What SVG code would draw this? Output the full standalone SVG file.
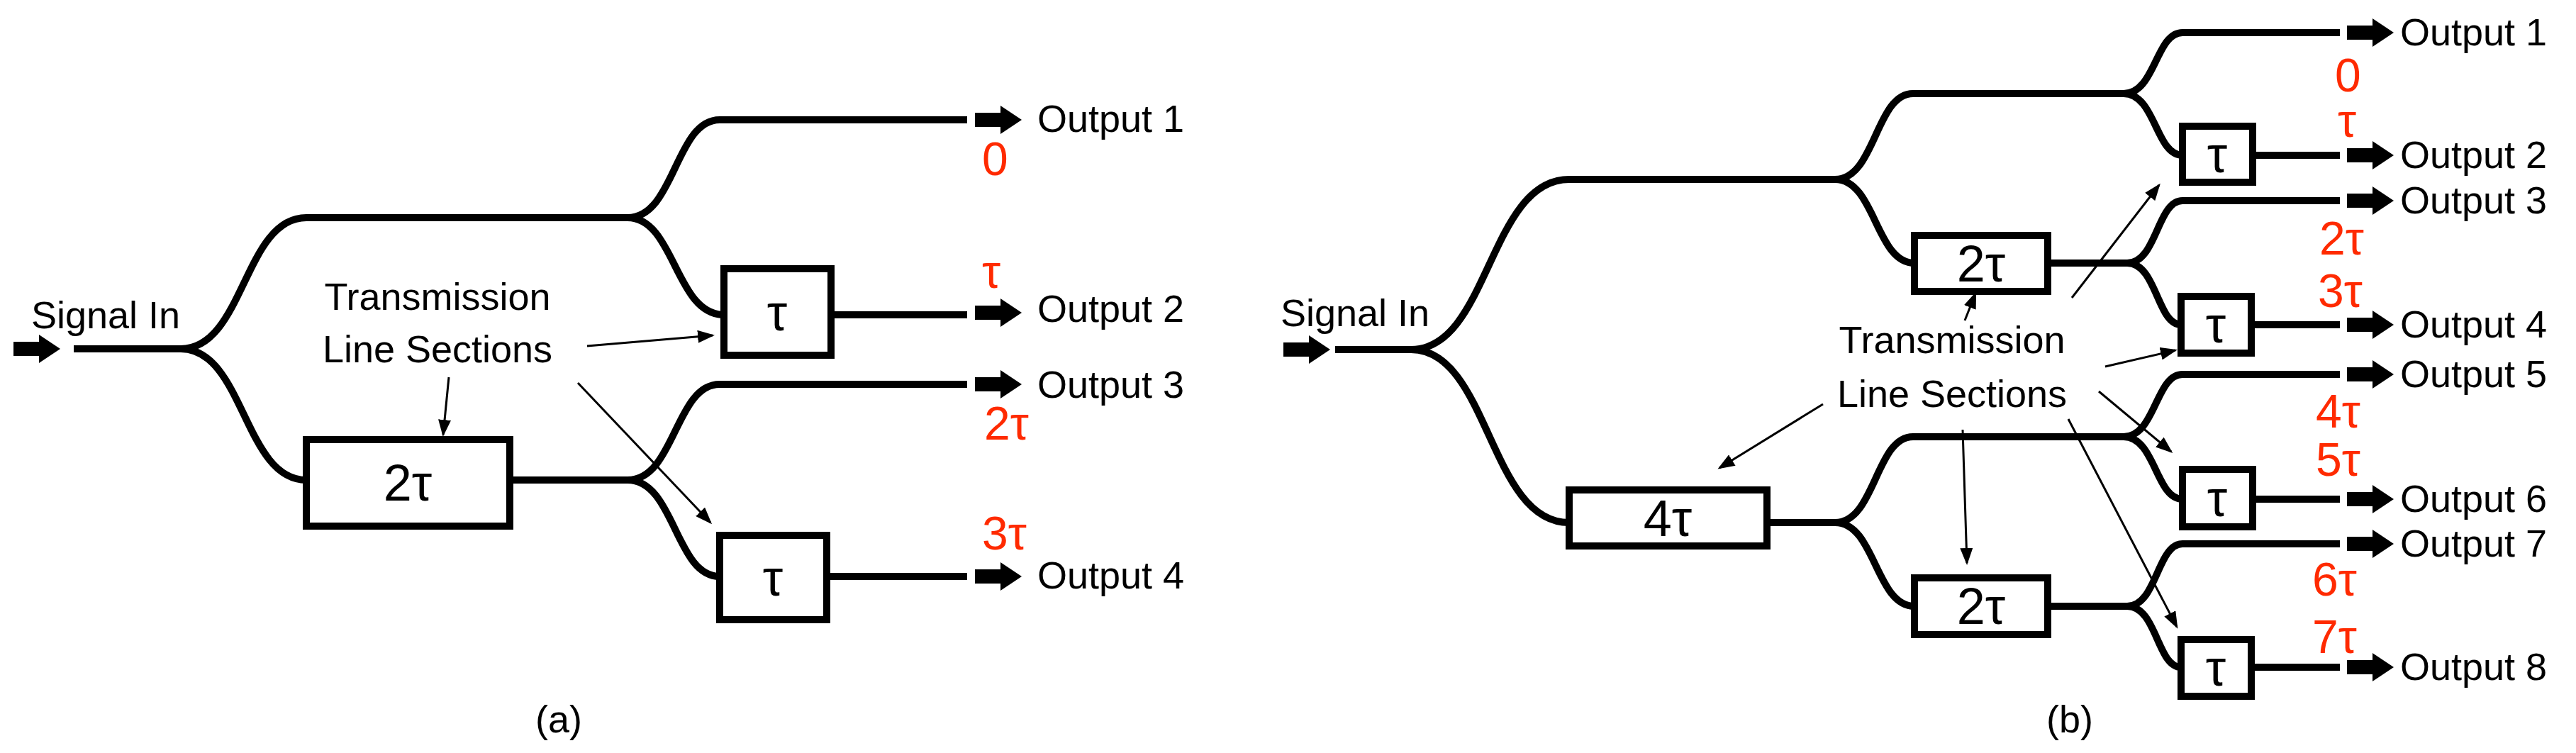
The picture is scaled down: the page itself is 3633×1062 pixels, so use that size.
<svg xmlns="http://www.w3.org/2000/svg" width="3633" height="1062" viewBox="0 0 3633 1062">
<style>
.w{fill:none;stroke:#000;stroke-width:10}
.b{fill:#fff;stroke:#000;stroke-width:10}
.a{stroke:#000;stroke-width:3;marker-end:url(#m)}
text{font-family:"Liberation Sans",Arial,sans-serif}
.t{font-size:54px;fill:#000}
.bt{font-size:72px;fill:#000;text-anchor:middle}
.r{font-size:66px;fill:#ff2a00}
</style>
<defs>
<marker id="m" markerWidth="8" markerHeight="6" refX="7" refY="3" orient="auto" markerUnits="strokeWidth"><path d="M0,0 L8,3 L0,6 z" fill="#000"/></marker>
<path id="fa" d="M0,-10 H36 V-20 L66,0 L36,20 V10 H0 z" fill="#000"/>
</defs>
<g id="connectors">
<use href="#fa" x="19" y="492"/>
<path class="w" d="M104,492 H255"/>
<path class="w" d="M255,492 C344,492 344,307 432,307 H885"/>
<path class="w" d="M255,492 C344,492 344,677 432,677"/>
<path class="w" d="M885,307 C952,307 952,169 1015,169 H1364"/>
<path class="w" d="M885,307 C952,307 952,444 1021,444"/>
<path class="w" d="M1172,444 H1364"/>
<path class="w" d="M719,677 H885"/>
<path class="w" d="M885,677 C952,677 952,542 1015,542 H1364"/>
<path class="w" d="M885,677 C952,677 952,813 1015,813"/>
<path class="w" d="M1166,813 H1364"/>
<use href="#fa" x="1375" y="169"/><use href="#fa" x="1375" y="441"/><use href="#fa" x="1375" y="542"/><use href="#fa" x="1375" y="813"/>
<line class="a" x1="828" y1="488" x2="1005" y2="473"/>
<line class="a" x1="633" y1="532" x2="625" y2="613"/>
<line class="a" x1="815" y1="540" x2="1002" y2="737"/>
<use href="#fa" x="1810" y="493"/>
<path class="w" d="M1883,493 H1990"/>
<path class="w" d="M1990,493 C2100,493 2100,253 2213,253 H2588"/>
<path class="w" d="M1990,493 C2100,493 2100,737 2213,737"/>
<path class="w" d="M2588,253 C2645,253 2645,132 2698,132 H2995"/>
<path class="w" d="M2588,253 C2645,253 2645,371 2700,371"/>
<path class="w" d="M2995,132 C3040,132 3040,46 3078,46 H3300"/>
<path class="w" d="M2995,132 C3040,132 3040,219 3078,219"/>
<path class="w" d="M3177,219 H3300"/>
<path class="w" d="M2888,371 H3000"/>
<path class="w" d="M3000,371 C3042,371 3042,283 3078,283 H3300"/>
<path class="w" d="M3000,371 C3042,371 3042,458 3076,458"/>
<path class="w" d="M3175,458 H3300"/>
<path class="w" d="M2492,737 H2588"/>
<path class="w" d="M2588,737 C2645,737 2645,616 2698,616 H2995"/>
<path class="w" d="M2588,737 C2645,737 2645,855 2700,855"/>
<path class="w" d="M2995,616 C3040,616 3040,528 3078,528 H3300"/>
<path class="w" d="M2995,616 C3040,616 3040,704 3078,704"/>
<path class="w" d="M3177,704 H3300"/>
<path class="w" d="M2888,855 H3000"/>
<path class="w" d="M3000,855 C3042,855 3042,767 3078,767 H3300"/>
<path class="w" d="M3000,855 C3042,855 3042,941 3076,941"/>
<path class="w" d="M3175,941 H3300"/>
<use href="#fa" x="3310" y="46"/><use href="#fa" x="3310" y="219"/><use href="#fa" x="3310" y="283"/><use href="#fa" x="3310" y="458"/>
<use href="#fa" x="3310" y="528"/><use href="#fa" x="3310" y="704"/><use href="#fa" x="3310" y="767"/><use href="#fa" x="3310" y="941"/>
<line class="a" x1="2771" y1="452" x2="2786" y2="414"/>
<line class="a" x1="2922" y1="420" x2="3045" y2="261"/>
<line class="a" x1="2969" y1="517" x2="3068" y2="494"/>
<line class="a" x1="2571" y1="570" x2="2425" y2="660"/>
<line class="a" x1="2768" y1="606" x2="2774" y2="794"/>
<line class="a" x1="2960" y1="552" x2="3062" y2="637"/>
<line class="a" x1="2917" y1="591" x2="3070" y2="884"/>
</g>
<g id="a-tau1"><rect class="b" x="1021" y="379" width="151" height="122"/><text class="bt" x="1096" y="466">τ</text></g>
<g id="a-2tau"><rect class="b" x="432" y="620" width="287" height="122"/><text class="bt" x="575" y="706">2τ</text></g>
<g id="a-tau2"><rect class="b" x="1015" y="755" width="151" height="119"/><text class="bt" x="1090" y="840">τ</text></g>
<g id="b-tau1"><rect class="b" x="3078" y="178" width="99" height="79"/><text class="bt" x="3127" y="243">τ</text></g>
<g id="b-2tau1"><rect class="b" x="2700" y="332" width="188" height="79"/><text class="bt" x="2794" y="397">2τ</text></g>
<g id="b-tau2"><rect class="b" x="3076" y="418" width="99" height="80"/><text class="bt" x="3125" y="483">τ</text></g>
<g id="b-4tau"><rect class="b" x="2213" y="691" width="279" height="79"/><text class="bt" x="2352" y="756">4τ</text></g>
<g id="b-tau3"><rect class="b" x="3078" y="662" width="99" height="81"/><text class="bt" x="3127" y="728">τ</text></g>
<g id="b-2tau2"><rect class="b" x="2700" y="815" width="188" height="80"/><text class="bt" x="2794" y="880">2τ</text></g>
<g id="b-tau4"><rect class="b" x="3076" y="902" width="99" height="80"/><text class="bt" x="3125" y="967">τ</text></g>
<g id="labels">
<text class="t" x="44" y="463">Signal In</text>
<text class="t" x="617" y="437" text-anchor="middle">Transmission</text>
<text class="t" x="617" y="511" text-anchor="middle">Line Sections</text>
<text class="t" x="1463" y="186">Output 1</text>
<text class="t" x="1463" y="454">Output 2</text>
<text class="t" x="1463" y="561">Output 3</text>
<text class="t" x="1463" y="830">Output 4</text>
<text class="r" x="1385" y="247">0</text>
<text class="r" x="1385" y="406">τ</text>
<text class="r" x="1388" y="620">2τ</text>
<text class="r" x="1385" y="775">3τ</text>
<text class="t" x="788" y="1033" text-anchor="middle">(a)</text>
<text class="t" x="1806" y="460">Signal In</text>
<text class="t" x="2753" y="498" text-anchor="middle">Transmission</text>
<text class="t" x="2753" y="574" text-anchor="middle">Line Sections</text>
<text class="t" x="3385" y="64">Output 1</text>
<text class="t" x="3385" y="237">Output 2</text>
<text class="t" x="3385" y="301">Output 3</text>
<text class="t" x="3385" y="476">Output 4</text>
<text class="t" x="3385" y="546">Output 5</text>
<text class="t" x="3385" y="722">Output 6</text>
<text class="t" x="3385" y="785">Output 7</text>
<text class="t" x="3385" y="959">Output 8</text>
<text class="r" x="3293" y="129">0</text>
<text class="r" x="3297" y="193">τ</text>
<text class="r" x="3271" y="359">2τ</text>
<text class="r" x="3269" y="433">3τ</text>
<text class="r" x="3266" y="603">4τ</text>
<text class="r" x="3266" y="671">5τ</text>
<text class="r" x="3261" y="840">6τ</text>
<text class="r" x="3261" y="921">7τ</text>
<text class="t" x="2919" y="1033" text-anchor="middle">(b)</text>
</g>
</svg>
